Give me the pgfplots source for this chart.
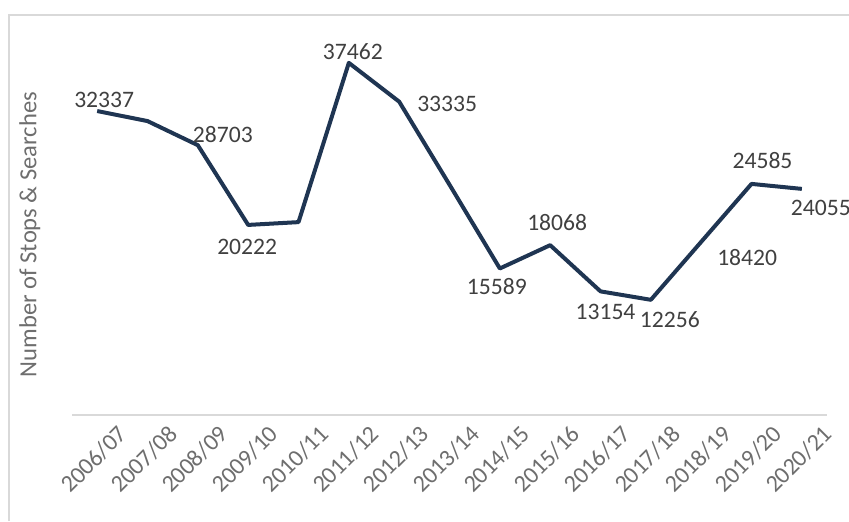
\documentclass[border=0pt]{standalone}
\usepackage{pgfplots}
\pgfplotsset{compat=1.18}
\usepackage{pgfplotstable}
\usepackage{fontspec}
\setmainfont{Carlito}

\definecolor{navy}{HTML}{1F3552}
\definecolor{lbl}{HTML}{404040}
\definecolor{tck}{HTML}{6E6E6E}
\definecolor{grid}{HTML}{D9D9D9}

% x = season index, y = stops & searches
\pgfplotstableread{
x y
0 32337
1 31270
2 28703
3 20222
4 20520
5 37462
6 33335
7 24500
8 15589
9 18068
10 13154
11 12256
12 18420
13 24585
14 24055
}\stops

% labelled points; dx, dy = offset of label centre in px (dy down)
\pgfplotstableread{
x y lab dx dy
0 32337 32337 7 -11
2 28703 28703 25 -11
3 20222 20222 -1 22
5 37462 37462 4 -11
6 33335 33335 48 2
8 15589 15589 -3 18
9 18068 18068 7 -23
10 13154 13154 5 21
11 12256 12256 19 20
12 18420 18420 46 16
13 24585 24585 11 -23
14 24055 24055 19 19
}\labels

\begin{document}
\begin{tikzpicture}
\begin{axis}[
    at={(36pt,53pt)}, anchor=south west,
    scale only axis,
    width=377.5pt, height=188pt,
    xmin=-0.5, xmax=14.5,
    ymin=0, ymax=40000,
    axis x line*=bottom,
    axis y line*=left,
    y axis line style={draw=none},
    x axis line style={draw=grid, line width=0.6pt},
    ytick=\empty,
    xtick={0,...,14},
    xticklabels={2006/07,2007/08,2008/09,2009/10,2010/11,2011/12,2012/13,2013/14,2014/15,2015/16,2016/17,2017/18,2018/19,2019/20,2020/21},
    major tick length=0pt,
    x tick label style={rotate=45, anchor=east, font=\fontsize{12}{13}\selectfont, text=tck, inner sep=1pt, xshift=5pt, yshift=-14.5pt},
    ylabel={Number of Stops \& Searches},
    every axis y label/.style={at={(axis description cs:-0.056,0.48)}, rotate=90, anchor=center, font=\fontsize{12.3}{13}\selectfont, text=tck},
    clip=false,
]
\addplot[navy, line width=2pt, line join=round] table[x=x, y=y] {\stops};
\addplot[draw=none, mark=none,
    point meta=explicit symbolic,
    visualization depends on={\thisrow{dx} \as \dx},
    visualization depends on={\thisrow{dy} \as \dy},
    nodes near coords,
    every node near coord/.append style={anchor=center, inner sep=0pt, text=lbl,
        font=\fontsize{11.8}{13}\selectfont, xshift=\dx*0.5pt, yshift=-\dy*0.5pt},
] table[x=x, y=y, meta=lab] {\labels};
\end{axis}
\draw[grid, line width=0.6pt] (4.5pt,0) -- (4.5pt,253pt) -- (424.5pt,253pt);
\pgfresetboundingbox
\path (0,0) rectangle (424.5pt,260.5pt);
\end{tikzpicture}
\end{document}
